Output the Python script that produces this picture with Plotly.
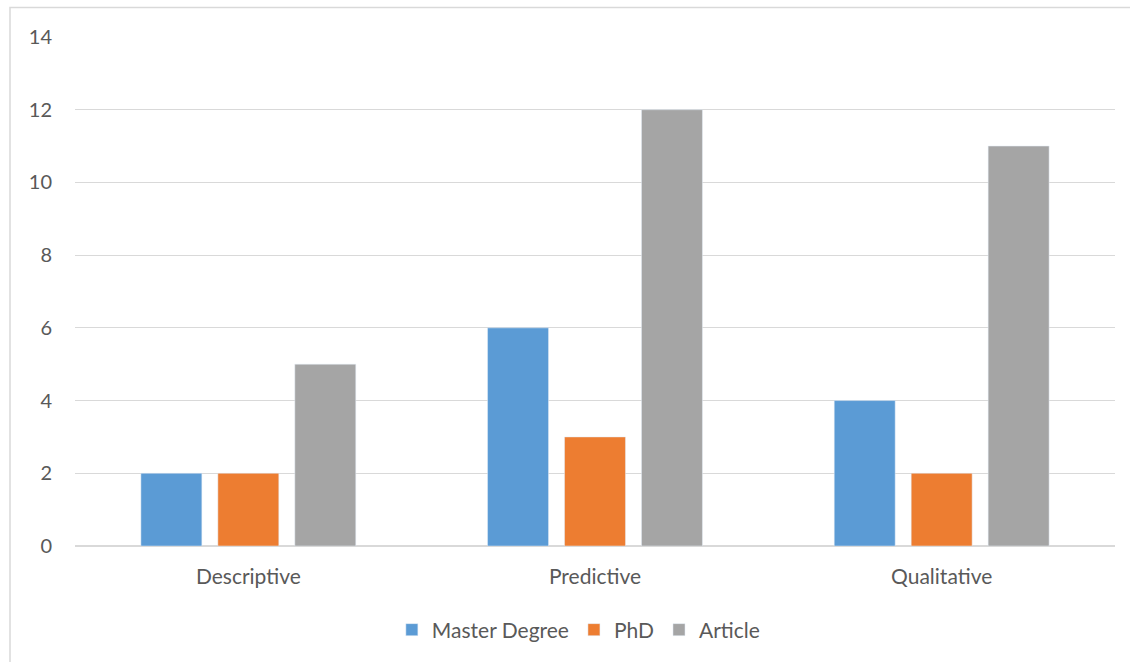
import plotly.graph_objects as go

categories = ["Descriptive", "Predictive", "Qualitative"]
master_degree = [2, 6, 4]
phd = [2, 3, 2]
article = [5, 12, 11]
y_ticks = [0, 2, 4, 6, 8, 10, 12, 14]

FONT = "Lato"
TXT = "#595959"
GRID = "#D9D9D9"

fig = go.Figure()
fig.add_bar(x=categories, y=master_degree, name="Master Degree", marker_color="#5B9BD5")
fig.add_bar(x=categories, y=phd, name="PhD", marker_color="#ED7D31")
fig.add_bar(x=categories, y=article, name="Article", marker_color="#A5A5A5")

fig.update_layout(
    width=1130, height=662,
    margin=dict(l=75, r=15, t=37, b=116),
    paper_bgcolor="white", plot_bgcolor="white",
    barmode="group", bargap=0.334, bargroupgap=0.208,
    font=dict(family=FONT, size=21, color=TXT),
    legend=dict(orientation="h", x=0.484, xanchor="center", y=-0.165, yanchor="middle",
                font=dict(size=21, color=TXT), traceorder="normal", itemwidth=30),
    xaxis=dict(showgrid=False, showline=False, ticks="", tickfont=dict(size=21, color=TXT),
               ticklabelstandoff=16),
    yaxis=dict(range=[0, 14], tickvals=y_ticks, showgrid=True, gridcolor=GRID, gridwidth=1.3,
               zeroline=True, zerolinecolor=GRID, zerolinewidth=1.5, showline=False,
               ticks="", tickfont=dict(size=20, color=TXT), ticklabelstandoff=22),
    shapes=[dict(type="rect", xref="paper", yref="paper", x0=-0.0625, x1=1.2, y0=-0.4, y1=1.058,
                 line=dict(color="#D9D9D9", width=1.5), fillcolor="rgba(0,0,0,0)", layer="below")],
)

fig.write_html("out.html", config={"displayModeBar": False},
               post_script="document.body.style.margin='0px';")
